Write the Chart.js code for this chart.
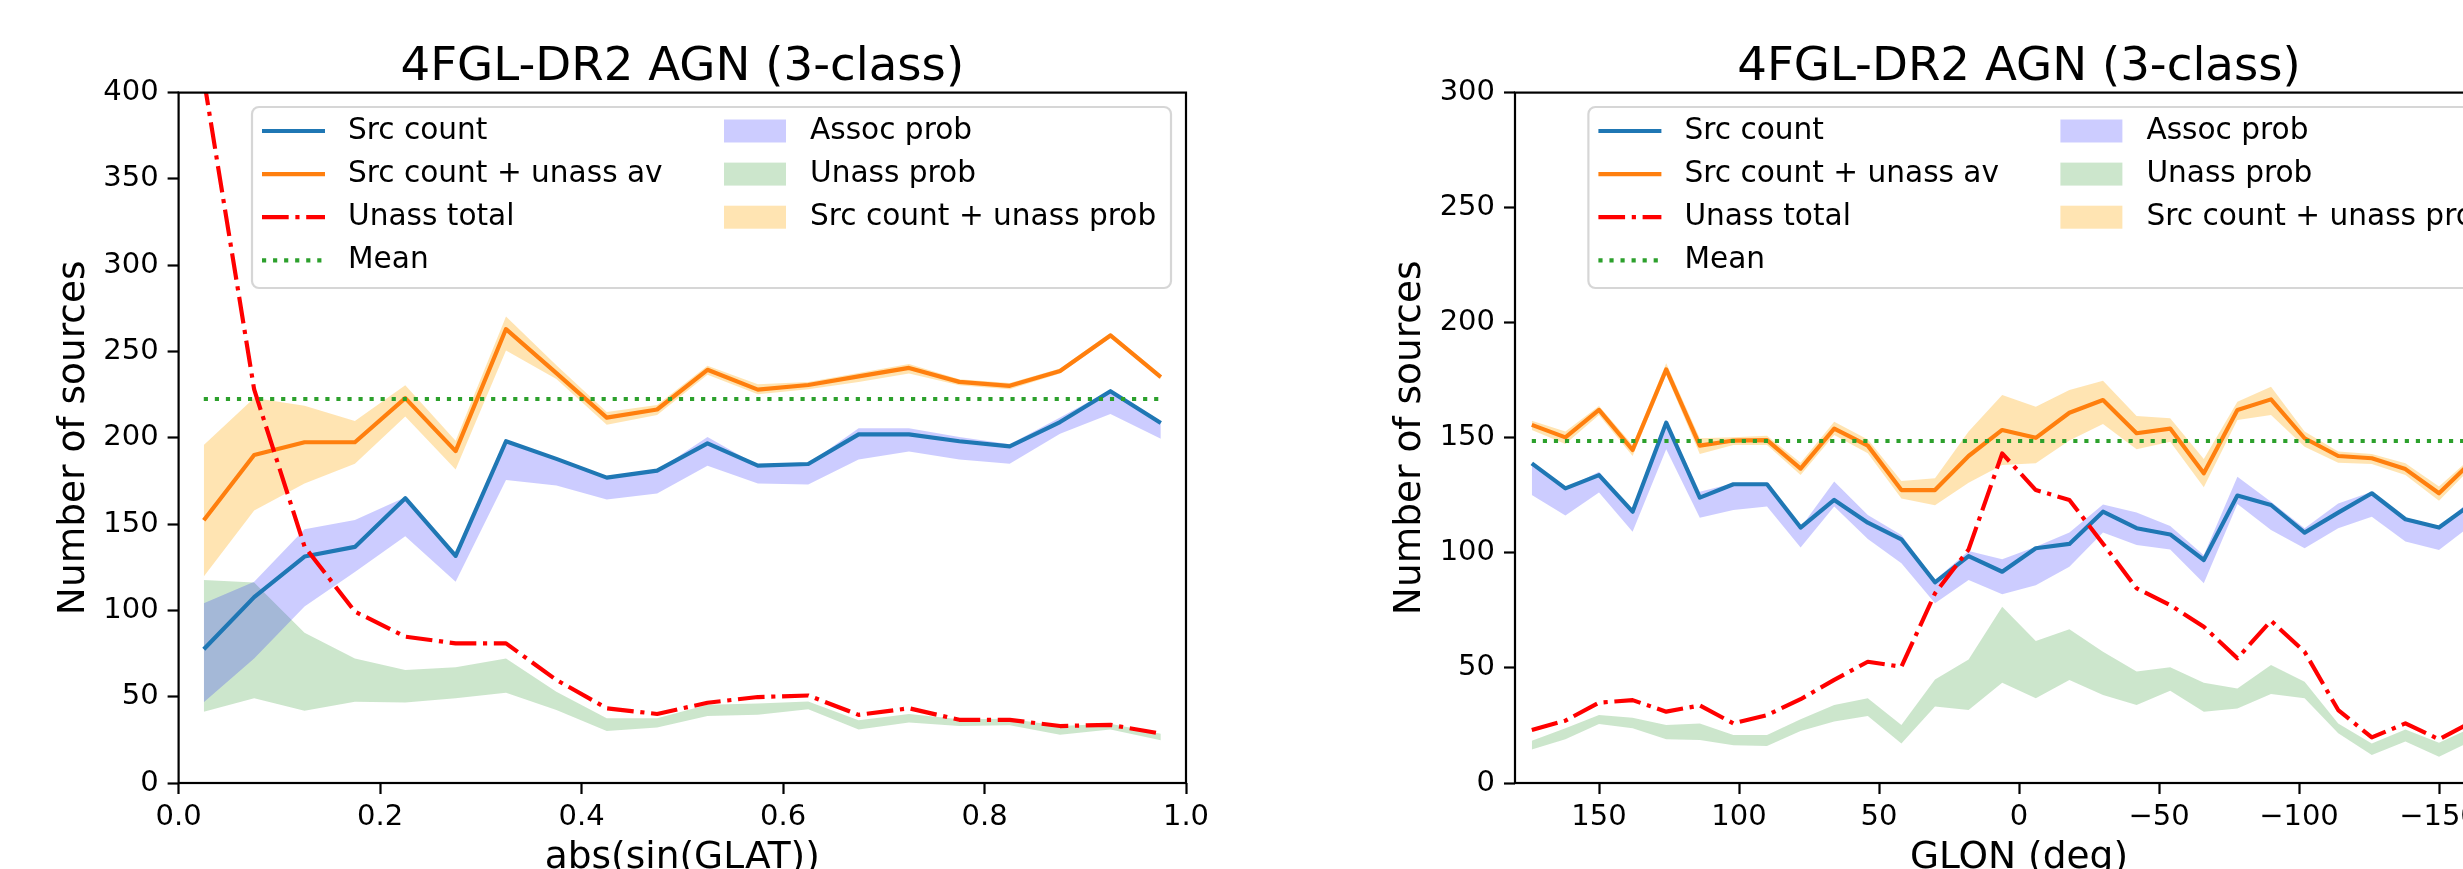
<!DOCTYPE html>
<html>
<head>
<meta charset="utf-8">
<title>4FGL-DR2 AGN (3-class)</title>
<script src="https://cdn.jsdelivr.net/npm/chart.js"></script>
<style>
    html, body { margin: 0; padding: 0; overflow: hidden; background: #fff; width: 2463px; height: 869px; }
    canvas { position: absolute; top: 0; }
    #graficoLat { left: 0; }
    #graficoLon { left: 1250px; }
</style>
</head>
<body>
<canvas id="graficoLat" width="1250" height="869"></canvas>
<canvas id="graficoLon" width="1350" height="869"></canvas>
<script>
// panel izquierdo: abs(sin(GLAT))
const latBins = [0.025, 0.075, 0.125, 0.175, 0.225, 0.275, 0.325, 0.375, 0.425, 0.475, 0.525, 0.575, 0.625, 0.675, 0.725, 0.775, 0.825, 0.875, 0.925, 0.975];
const latSrc = [77.5, 107.7, 131.2, 136.8, 165.0, 131.6, 198.0, 187.8, 176.9, 181.0, 196.8, 183.9, 184.8, 202.0, 202.0, 198.0, 195.0, 209.1, 227.0, 208.6];
const latSrcUnassAv = [152.2, 190.0, 197.4, 197.4, 223.0, 192.3, 263.0, 237.5, 211.7, 216.4, 239.4, 227.9, 230.6, 235.6, 240.5, 232.4, 230.1, 238.7, 259.3, 235.2];
const latUnassTotal = [408, 228, 137, 99.3, 84.8, 80.9, 80.9, 59.7, 43.3, 40.0, 46.5, 49.8, 50.7, 39.5, 43.3, 36.6, 36.6, 33.0, 33.7, 28.6];
const latMean = 222.5;
const latAssocLo = [46.8, 72.2, 102.2, 122.2, 142.9, 116.6, 175.5, 172.4, 164.2, 167.7, 183.8, 173.5, 172.9, 187.5, 192.1, 187.5, 184.9, 202.4, 213.8, 199.4];
const latAssocHi = [104.1, 116.6, 147.0, 152.4, 165.5, 131.7, 197.9, 187.8, 177.3, 181.1, 200.5, 184.0, 185.0, 205.6, 205.6, 200.5, 196.2, 211.8, 227.7, 209.7];
const latUnassLo = [41.3, 49.1, 41.9, 47.1, 46.7, 49.1, 52.3, 42.3, 30.1, 32.1, 38.8, 39.5, 42.7, 31.0, 35.0, 33.0, 33.4, 28.0, 31.0, 24.7];
const latUnassHi = [117.6, 116.1, 87.1, 72.2, 65.5, 67.0, 72.2, 52.9, 37.5, 37.5, 45.3, 46.0, 47.2, 36.3, 40.0, 37.0, 37.2, 33.0, 34.3, 28.6];
const latBandLo = [119.7, 157.9, 173.5, 184.9, 212.4, 181.7, 250.6, 234.0, 207.6, 213.2, 236.6, 225.2, 228.1, 232.4, 237.2, 230.4, 228.1, 237.2, 257.9, 234.1];
const latBandHi = [195.8, 223.1, 218.6, 209.7, 230.4, 198.3, 270.3, 242.0, 215.0, 219.0, 241.8, 231.0, 232.3, 237.6, 242.8, 233.9, 231.8, 240.1, 260.8, 236.6];
const latTicks = [0, 0.2, 0.4, 0.6, 0.8, 1.0];

// panel derecho: GLON (deg)
const lonBins = [174, 162, 150, 138, 126, 114, 102, 90, 78, 66, 54, 42, 30, 18, 6, -6, -18, -30, -42, -54, -66, -78, -90, -102, -114, -126, -138, -150, -162];
const lonSrc = [138.9, 128.0, 133.8, 117.9, 156.6, 124.0, 129.8, 129.8, 111.0, 123.0, 113.1, 105.9, 87.2, 98.6, 91.8, 102.0, 103.9, 117.9, 110.7, 108.0, 96.9, 124.9, 120.8, 108.8, 117.5, 125.9, 114.6, 111.0, 121.6];
const lonSrcUnassAv = [155.6, 150.2, 162.1, 144.7, 179.7, 146.6, 148.8, 149.0, 136.6, 154.0, 146.6, 127.3, 127.3, 142.1, 153.4, 150.0, 160.9, 166.4, 152.0, 154.0, 134.6, 162.1, 166.7, 149.8, 142.1, 141.1, 136.4, 125.9, 140.0];
const lonUnassTotal = [23.0, 27.1, 34.9, 36.0, 31.0, 33.7, 25.9, 29.5, 36.4, 44.8, 52.7, 50.5, 82.4, 101.5, 143.2, 127.3, 123.0, 104.0, 84.6, 77.3, 67.9, 54.2, 70.5, 57.0, 31.7, 19.8, 25.9, 19.0, 26.7];
const lonMean = 148.6;
const lonAssocLo = [125.1, 116.2, 126.2, 109.2, 145.0, 115.3, 118.6, 120.1, 102.3, 120.1, 106.0, 95.5, 78.1, 88.2, 82.0, 85.9, 94.0, 108.8, 103.4, 101.5, 86.8, 121.2, 109.9, 102.0, 110.7, 115.7, 104.9, 101.2, 112.4];
const lonAssocHi = [139.2, 128.0, 135.3, 117.9, 157.7, 126.6, 130.2, 130.2, 111.0, 131.0, 116.5, 107.8, 88.2, 100.8, 97.2, 102.7, 108.8, 121.0, 117.5, 111.7, 99.0, 133.1, 122.2, 110.7, 121.5, 126.6, 115.0, 111.1, 123.5];
const lonUnassLo = [14.6, 19.0, 25.6, 23.8, 19.0, 18.7, 16.4, 16.1, 22.6, 26.7, 29.1, 17.2, 33.2, 31.7, 43.6, 36.8, 44.8, 38.2, 33.9, 40.1, 31.0, 32.4, 38.7, 36.8, 21.6, 12.2, 18.0, 11.4, 18.5];
const lonUnassHi = [18.4, 23.8, 29.5, 28.4, 25.2, 25.9, 20.9, 20.9, 27.7, 33.9, 36.8, 25.2, 45.0, 53.7, 76.6, 61.7, 66.8, 57.0, 48.4, 50.3, 43.6, 41.1, 51.3, 44.0, 25.9, 17.2, 23.3, 17.5, 24.2];
const lonBandLo = [153.4, 147.3, 159.9, 142.1, 177.3, 143.0, 146.9, 146.9, 133.8, 151.2, 143.3, 123.6, 120.7, 130.5, 138.2, 138.9, 148.8, 156.0, 145.0, 148.3, 128.5, 157.7, 159.9, 146.1, 139.2, 138.6, 133.8, 122.7, 137.6];
const lonBandHi = [157.4, 152.7, 163.8, 146.9, 182.4, 149.8, 150.2, 150.9, 139.2, 157.0, 149.3, 131.2, 132.4, 152.7, 168.6, 163.5, 170.8, 174.8, 159.5, 158.5, 140.8, 165.7, 172.2, 152.7, 144.0, 143.0, 138.9, 128.8, 141.9];

const titulo = '4FGL-DR2 AGN (3-class)';
const LW = 4.17;

Chart.defaults.font.family = '"DejaVu Sans", sans-serif';
Chart.defaults.color = '#000';

// titulo, marco y leyenda estilo matplotlib
const panelPlugin = {
    id: 'panel',
    afterDraw(chart) {
        const ctx = chart.ctx;
        const a = chart.chartArea;
        ctx.save();
        ctx.strokeStyle = '#000';
        ctx.lineWidth = 2.2;
        ctx.strokeRect(a.left, a.top, a.right - a.left, a.bottom - a.top);

        ctx.fillStyle = '#000';
        ctx.font = '46.7px "DejaVu Sans"';
        ctx.textAlign = 'center';
        ctx.textBaseline = 'alphabetic';
        ctx.fillText(titulo, (a.left + a.right) / 2, a.top - 12.3);

        ctx.beginPath();
        ctx.roundRect(a.left + 73.4, a.top + 14.4, 919, 181, 7);
        ctx.fillStyle = 'rgba(255,255,255,0.8)';
        ctx.fill();
        ctx.strokeStyle = 'rgba(204,204,204,0.8)';
        ctx.lineWidth = 2.2;
        ctx.stroke();

        ctx.font = '29.6px "DejaVu Sans"';
        ctx.textAlign = 'left';
        ctx.textBaseline = 'middle';
        chart.data.datasets.forEach(ds => {
            if (ds.legendRow === undefined) return;
            const cy = a.top + 38.4 + ds.legendRow * 43.1;
            if (ds.legendCol === 0) {
                ctx.beginPath();
                ctx.setLineDash(ds.borderDash || []);
                ctx.lineWidth = LW;
                ctx.strokeStyle = ds.borderColor;
                ctx.moveTo(a.left + 83.4, cy);
                ctx.lineTo(a.left + 146.4, cy);
                ctx.stroke();
                ctx.setLineDash([]);
                ctx.fillStyle = '#000';
                ctx.fillText(ds.label, a.left + 169.4, cy);
            } else {
                ctx.fillStyle = ds.backgroundColor;
                ctx.fillRect(a.left + 545.4, cy - 11.5, 62, 23);
                ctx.fillStyle = '#000';
                ctx.fillText(ds.label, a.left + 631.4, cy);
            }
        });
        ctx.restore();
    }
};

function puntos(xs, ys) {
    return xs.map((x, i) => ({x: x, y: ys[i]}));
}

function armarDatasets(xs, src, srcAv, unass, mean, assocLo, assocHi, unassLo, unassHi, bandLo, bandHi) {
    const base = {pointRadius: 0, tension: 0, borderWidth: LW, fill: false, clip: 0, borderJoinStyle: 'round'};
    const oculto = {pointRadius: 0, tension: 0, borderWidth: 0, borderColor: 'rgba(0,0,0,0)', clip: 0};
    return [
        {...base, label: 'Src count', data: puntos(xs, src), borderColor: '#1f77b4', order: 3, legendCol: 0, legendRow: 0},
        {...base, label: 'Src count + unass av', data: puntos(xs, srcAv), borderColor: '#ff7f0e', order: 2, legendCol: 0, legendRow: 1},
        {...base, label: 'Unass total', data: puntos(xs, unass), borderColor: '#ff0000',
            borderDash: [6.4 * LW, 1.6 * LW, LW, 1.6 * LW], order: 1, legendCol: 0, legendRow: 2},
        {...base, label: 'Mean', data: [{x: xs[0], y: mean}, {x: xs[xs.length - 1], y: mean}], borderColor: '#2ca02c',
            borderDash: [LW, 1.65 * LW], order: 0, legendCol: 0, legendRow: 3},
        {...oculto, label: 'assoc lo', data: puntos(xs, assocLo), fill: false, order: 5},
        {...oculto, label: 'Assoc prob', data: puntos(xs, assocHi), fill: '-1', backgroundColor: 'rgba(0,0,255,0.2)', order: 5, legendCol: 1, legendRow: 0},
        {...oculto, label: 'unass lo', data: puntos(xs, unassLo), fill: false, order: 6},
        {...oculto, label: 'Unass prob', data: puntos(xs, unassHi), fill: '-1', backgroundColor: 'rgba(0,128,0,0.2)', order: 6, legendCol: 1, legendRow: 1},
        {...oculto, label: 'band lo', data: puntos(xs, bandLo), fill: false, order: 7},
        {...oculto, label: 'Src count + unass prob', data: puntos(xs, bandHi), fill: '-1', backgroundColor: 'rgba(255,165,0,0.3)', order: 7, legendCol: 1, legendRow: 2}
    ];
}

function sinPadding(s) {
    s.paddingTop = 0; s.paddingBottom = 0; s.paddingLeft = 0; s.paddingRight = 0;
}

function ejeY(max, ancho, tituloPad) {
    return {
        type: 'linear', min: 0, max: max,
        ticks: {stepSize: 50, color: '#000', font: {size: 29}, padding: 9},
        grid: {drawOnChartArea: false, drawTicks: true, tickLength: 11, tickWidth: 2.2, tickColor: '#000'},
        border: {display: false},
        title: {display: true, text: 'Number of sources', color: '#000', font: {size: 37.5}, padding: {top: tituloPad, bottom: 0}},
        afterFit: s => { s.width = ancho; sinPadding(s); }
    };
}

function ejeX(extra, texto) {
    return Object.assign({
        type: 'linear',
        grid: {drawOnChartArea: false, drawTicks: true, tickLength: 11, tickWidth: 2.2, tickColor: '#000'},
        border: {display: false},
        title: {display: true, text: texto, color: '#000', font: {size: 37.5}, padding: {top: 0, bottom: -11.5}},
        afterFit: s => { s.height = 86; sinPadding(s); }
    }, extra);
}

function opciones(xScale, yScale, padRight) {
    return {
        responsive: false,
        maintainAspectRatio: false,
        animation: false,
        devicePixelRatio: 1,
        events: [],
        layout: {autoPadding: false, padding: {top: 92.6, right: padRight, bottom: 0, left: 0}},
        plugins: {legend: {display: false}, tooltip: {enabled: false}, title: {display: false}},
        scales: {x: xScale, y: yScale}
    };
}

document.addEventListener('DOMContentLoaded', function () {
    new Chart(document.getElementById('graficoLat').getContext('2d'), {
        type: 'line',
        data: {datasets: armarDatasets(latBins, latSrc, latSrcUnassAv, latUnassTotal, latMean,
            latAssocLo, latAssocHi, latUnassLo, latUnassHi, latBandLo, latBandHi)},
        options: opciones(
            ejeX({min: 0, max: 1, afterBuildTicks: s => { s.ticks = latTicks.map(v => ({value: v})); },
                ticks: {color: '#000', font: {size: 29}, padding: 6, maxRotation: 0, autoSkip: false, callback: v => Number(v).toFixed(1)}},
                'abs(sin(GLAT))'),
            ejeY(400, 178.6, 51.8), 64),
        plugins: [panelPlugin]
    });

    new Chart(document.getElementById('graficoLon').getContext('2d'), {
        type: 'line',
        data: {datasets: armarDatasets(lonBins, lonSrc, lonSrcUnassAv, lonUnassTotal, lonMean,
            lonAssocLo, lonAssocHi, lonUnassLo, lonUnassHi, lonBandLo, lonBandHi)},
        options: opciones(
            ejeX({min: -180, max: 180, reverse: true,
                ticks: {stepSize: 50, includeBounds: false, color: '#000', font: {size: 29}, padding: 6, maxRotation: 0, autoSkip: false,
                    callback: v => v < 0 ? '\u2212' + Math.abs(v) : String(v)}},
                'GLON (deg)'),
            ejeY(300, 265, 138.2), 77),
        plugins: [panelPlugin]
    });
});
</script>
</body>
</html>
